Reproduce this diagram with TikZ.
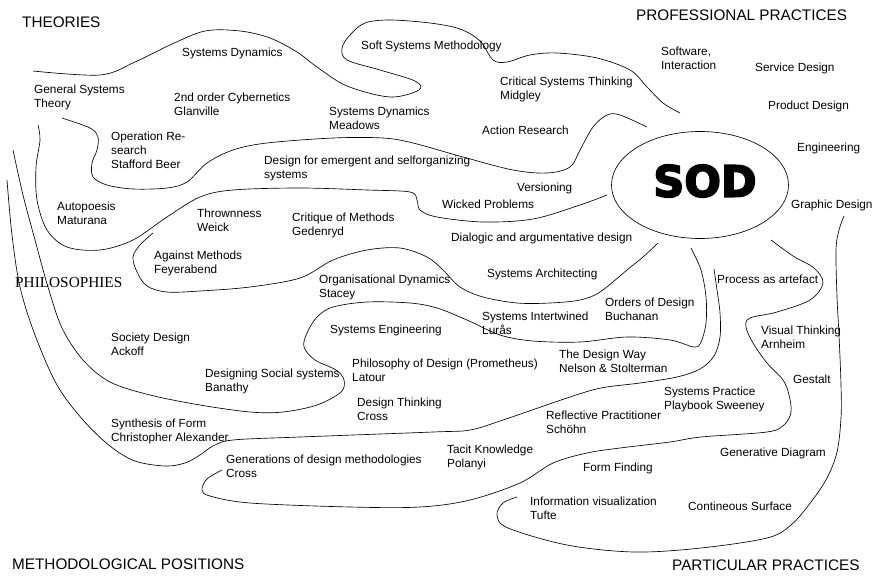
\documentclass[tikz,border=0pt]{standalone}
\usepackage{fontspec}
\usetikzlibrary{shapes.geometric}
\setmainfont{Liberation Sans}
\newfontfamily\serifx{Liberation Serif}
\newfontfamily\sodfont[UprightFeatures={FakeBold=4},BoldFeatures={FakeBold=4}]{DejaVu Sans}
\begin{document}
\begin{tikzpicture}[x=1pt,y=-1pt,
  lbl/.style={anchor=north west,inner sep=0pt,align=left,font=\fontsize{11.8}{14}\selectfont},
  head/.style={anchor=north west,inner sep=0pt,font=\fontsize{15.3}{18}\selectfont},
  curve/.style={line width=0.65pt,black}]
\useasboundingbox (0,0) rectangle (874,575);
\fill[white] (0,0) rectangle (874,575);

% headings
\node[head] (hTheo) at (22,17) {THEORIES};
\node[head] (hProf) at (636,10) {PROFESSIONAL PRACTICES};
\node[head,font=\serifx\fontsize{15.3}{18}\selectfont] (hPhil) at (15,277) {PHILOSOPHIES};
\node[head] (hMeth) at (12,559) {METHODOLOGICAL POSITIONS};
\node[head] (hPart) at (672,560) {PARTICULAR PRACTICES};

% SOD
\node[ellipse,draw,line width=0.65pt,minimum width=177pt,minimum height=107pt,inner sep=0] (sod) at (700,185) {};
\node[inner sep=0,font=\sodfont\bfseries\fontsize{43}{43}\selectfont] (sodt) at (705,181) {\special{pdf:code 2 Tr 1.6 w}SOD\special{pdf:code 0 Tr}};

% curves
\draw[curve] plot[smooth,tension=0.55] coordinates {(33,71) (100,75) (135,62) (170,45) (205,31) (240,31) (270,38) (297,52) (317,67) (347,86) (390,97) (419,90) (415,81) (380,70) (347,60) (342,48) (350,35) (365,23) (390,20) (430,23) (460,29) (480,41) (493,60) (507,62) (530,55) (557,53) (597,58) (630,70) (647,87) (663,103) (680,113)};

\draw[curve] plot[smooth,tension=0.55] coordinates {(62,118) (90,128) (98,137) (97,150) (92,163) (93,177) (107,185) (133,189) (167,188) (187,182) (207,163) (233,150) (267,143) (333,138) (383,138) (413,143) (463,157) (513,170) (547,173) (570,167) (580,150) (593,127) (607,115) (620,115) (647,127)};

\draw[curve] plot[smooth,tension=0.55] coordinates {(38,125) (40,140) (36,167) (37,200) (47,230) (67,247) (100,250) (133,240) (167,217) (200,197) (233,190) (300,188) (367,190) (410,192) (417,200) (420,210) (437,217) (483,222) (533,219) (580,205) (607,195)};

\draw[curve] plot[smooth,tension=0.55] coordinates {(153,233) (140,245) (133,257) (137,272) (147,286) (167,292) (200,291) (250,287) (300,278) (333,260) (367,250) (400,248) (427,257) (443,270) (460,287) (483,297) (517,303) (550,303) (580,300) (600,292) (627,270) (643,257) (658,243)};

\draw[curve] plot[smooth,tension=0.55] coordinates {(691,248) (701,270) (706,297) (706,323) (701,342) (694,347) (670,340) (627,337) (580,342) (533,341) (500,335) (467,320) (437,308) (410,303) (367,302) (333,307) (317,317) (307,333) (304,347) (315,360) (336,370) (344,380) (341,392) (317,405) (283,412) (250,412) (200,405) (150,395) (110,382) (83,360) (62,328) (48,287) (35,240) (23,195) (13,150)};

\draw[curve] plot[smooth,tension=0.55] coordinates {(714,269) (717,290) (720,313) (720,337) (714,356) (700,369) (677,377) (640,383) (601,388) (567,398) (503,420) (470,430) (433,432) (300,437) (233,440) (213,446) (200,455) (185,463) (165,466) (135,461) (110,446) (83,420) (57,385) (35,335) (20,287) (12,235) (7,180)};

\draw[curve] plot[smooth,tension=0.55] coordinates {(222,470) (207,479) (202,490) (210,496) (250,503) (350,507) (420,507) (470,500) (520,483) (553,463) (587,453) (620,448) (670,442) (701,437) (767,432) (784,425) (791,412) (789,395) (783,380) (767,363) (753,343) (746,327) (750,318) (777,312) (810,300) (823,283) (814,268) (793,256) (771,240)};

\draw[curve] plot[smooth,tension=0.55] coordinates {(517,497) (503,503) (497,515) (508,528) (567,545) (634,552) (701,548) (767,538) (791,525) (811,502) (827,478) (837,452) (841,418) (841,385) (839,335) (837,297) (836,250) (839,230) (844,216)};

% labels
\node[lbl] (n1) at (182,48) {Systems Dynamics};
\node[lbl] (n2) at (34,85) {General Systems\\Theory};
\node[lbl] (n3) at (174,93) {2nd order Cybernetics\\Glanville};
\node[lbl] (n4) at (329,107) {Systems Dynamics\\Meadows};
\node[lbl] (n5) at (111,132) {Operation Re-\\search\\Stafford Beer};
\node[lbl] (n6) at (264,156) {Design for emergent and selforganizing\\systems};
\node[lbl] (n7) at (57,202) {Autopoesis\\Maturana};
\node[lbl] (n8) at (197,209) {Thrownness\\Weick};
\node[lbl] (n9) at (292,213) {Critique of Methods\\Gedenryd};
\node[lbl] (n10) at (154,251) {Against Methods\\Feyerabend};
\node[lbl] (n11) at (319,275) {Organisational Dynamics\\Stacey};
\node[lbl] (n12) at (361,41) {Soft Systems Methodology};
\node[lbl] (n13) at (500,77) {Critical Systems Thinking\\Midgley};
\node[lbl] (n14) at (482,126) {Action Research};
\node[lbl] (n15) at (517,183) {Versioning};
\node[lbl] (n16) at (442,200) {Wicked Problems};
\node[lbl] (n17) at (661,47) {Software,\\Interaction};
\node[lbl] (n18) at (755,63) {Service Design};
\node[lbl] (n19) at (768,101) {Product Design};
\node[lbl] (n20) at (797,143) {Engineering};
\node[lbl] (n21) at (791,200) {Graphic Design};
\node[lbl] (n22) at (451,233) {Dialogic and argumentative design};
\node[lbl] (n23) at (487,269) {Systems Architecting};
\node[lbl] (n24) at (717,275) {Process as artefact};
\node[lbl] (n25) at (330,325) {Systems Engineering};
\node[lbl] (n26) at (111,333) {Society Design\\Ackoff};
\node[lbl] (n27) at (352,359) {Philosophy of Design (Prometheus)\\Latour};
\node[lbl] (n28) at (205,369) {Designing Social systems\\Banathy};
\node[lbl] (n29) at (357,398) {Design Thinking\\Cross};
\node[lbl] (n30) at (111,419) {Synthesis of Form\\Christopher Alexander};
\node[lbl] (n31) at (226,455) {Generations of design methodologies\\Cross};
\node[lbl] (n32) at (605,298) {Orders of Design\\Buchanan};
\node[lbl] (n33) at (482,312) {Systems Intertwined\\Lurås};
\node[lbl] (n34) at (761,326) {Visual Thinking\\Arnheim};
\node[lbl] (n35) at (559,350) {The Design Way\\Nelson \& Stolterman};
\node[lbl] (n36) at (793,375) {Gestalt};
\node[lbl] (n37) at (664,387) {Systems Practice\\Playbook Sweeney};
\node[lbl] (n38) at (546,411) {Reflective Practitioner\\Schöhn};
\node[lbl] (n39) at (447,445) {Tacit Knowledge\\Polanyi};
\node[lbl] (n40) at (720,448) {Generative Diagram};
\node[lbl] (n41) at (583,463) {Form Finding};
\node[lbl] (n42) at (530,497) {Information visualization\\Tufte};
\node[lbl] (n43) at (688,502) {Contineous Surface};
\end{tikzpicture}
\end{document}
